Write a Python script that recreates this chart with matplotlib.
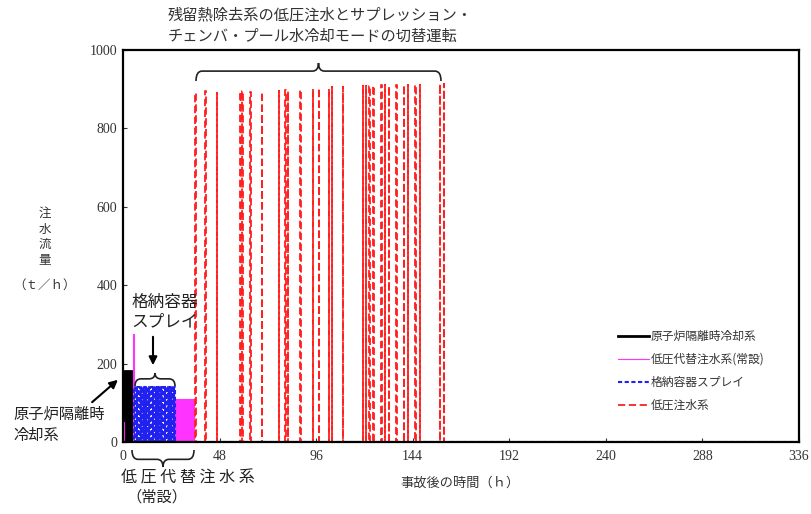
import numpy as np
import matplotlib.pyplot as plt
from matplotlib.path import Path
from matplotlib.patches import PathPatch

plt.rcParams['font.family'] = ['Noto Sans CJK JP', 'DejaVu Sans']

# ---------------------------------------------------------------------
# data
# ---------------------------------------------------------------------
# 原子炉隔離時冷却系 : on-interval (h) and flow (t/h)
rcic_on = (0.6, 4.3)
rcic_flow = 180

# 低圧代替注水系(常設) : pulse start (h), width (h), flow (t/h)
lpci_alt_t = [0.2, 4.9, 26.0, 27.0, 28.0, 29.0, 30.0, 31.0, 32.0, 33.0, 34.0, 35.0]
lpci_alt_w = [0.5, 0.4, 0.3, 0.3, 0.3, 0.3, 0.3, 0.3, 0.3, 0.3, 0.3, 0.3]
lpci_alt_q = [50, 275, 110, 110, 110, 110, 110, 110, 110, 110, 110, 110]

# 格納容器スプレイ : pulse start (h), flow (t/h)
spray_t = [5.5, 6.3, 7.1, 7.9, 8.7, 9.5, 10.3, 11.1, 11.9, 12.7, 13.5, 14.3,
           15.1, 15.9, 16.7, 17.5, 18.3, 19.1, 19.9, 20.7, 21.5, 22.3, 23.1,
           23.9, 24.7, 25.4]
spray_q = 140
spray_w = 0.4

# 低圧注水系 : pulse start (h), peak flow (t/h)
lpci_t = [35.8, 40.8, 46.6, 58.2, 59.3, 63.2, 69.0, 77.3, 80.6, 81.9, 88.1,
          94.2, 97.2, 102.2, 103.8, 109.1, 119.1, 120.7, 122.4, 124.5, 128.4,
          130.0, 132.0, 135.7, 139.5, 141.5, 145.3, 147.4, 157.4, 159.4]
lpci_q = [890, 895, 890, 892, 895, 893, 893, 895, 898, 895, 897, 900, 902,
          900, 905, 905, 908, 908, 908, 908, 910, 910, 908, 910, 910, 910,
          910, 910, 912, 912]
lpci_w = 0.3

T_END = 336


def pulses(starts, widths, heights):
    """Build a step series (x, y) from rectangular pulses."""
    xs, ys = [0.0], [0.0]
    for s, w, h in zip(starts, widths, heights):
        xs += [s, s, s + w, s + w]
        ys += [0, h, h, 0]
    xs.append(T_END)
    ys.append(0)
    return np.array(xs), np.array(ys)


def brace(fig, x0, x1, y, h, up=True, lw=1.2):
    """Curly brace in figure pixels between x0 and x1 at y, tip out by h."""
    W, H = fig.bbox.width, fig.bbox.height
    s = 1 if up else -1
    xm = (x0 + x1) / 2
    r = 6
    yb = y + s * h * 0.55
    verts = [
        (x0, y), (x0, yb), (x0 + r, yb),
        (xm - r, yb), (xm, yb), (xm, y + s * h),
        (xm, yb), (xm + r, yb),
        (x1 - r, yb), (x1, yb), (x1, y),
    ]
    verts = [(vx / W, vy / H) for vx, vy in verts]
    codes = [Path.MOVETO, Path.CURVE3, Path.CURVE3, Path.LINETO,
             Path.CURVE3, Path.CURVE3, Path.CURVE3, Path.CURVE3,
             Path.LINETO, Path.CURVE3, Path.CURVE3]
    fig.add_artist(PathPatch(Path(verts, codes), fill=False, lw=lw,
                             edgecolor="#222222", transform=fig.transFigure,
                             clip_on=False))


fig = plt.figure(figsize=(8.11, 5.14), dpi=100)
ax = fig.add_axes([0.1517, 0.140, 0.8335, 0.763])
W, H = 811, 514

# RCIC block
ax.fill_between([rcic_on[0], rcic_on[1]], 0, rcic_flow, color="black", lw=0)
ax.plot([0, rcic_on[0], rcic_on[0], rcic_on[1], rcic_on[1], T_END],
        [0, 0, rcic_flow, rcic_flow, 0, 0], color="black", lw=2,
        label="原子炉隔離時冷却系")

# LPCI alt (magenta)
x, y = pulses(lpci_alt_t, lpci_alt_w, lpci_alt_q)
ax.plot(x, y, color="#ff33ff", lw=0.8, label="低圧代替注水系(常設)")

# Containment spray (blue dashed)
x, y = pulses(spray_t, [spray_w] * len(spray_t), [spray_q] * len(spray_t))
ax.plot(x, y, color="#2222ee", lw=1.5, ls=(0, (2, 1.2)),
        label="格納容器スプレイ")

# LPCI (red dashed)
x, y = pulses(lpci_t, [lpci_w] * len(lpci_t), lpci_q)
ax.plot(x, y, color="#ff2020", lw=1.3, ls=(0, (4, 2)), label="低圧注水系")

ax.set_xlim(0, 336)
ax.set_ylim(0, 1000)
ax.set_xticks(np.arange(0, 337, 48))
ax.set_yticks(np.arange(0, 1001, 200))
ax.tick_params(direction="in", length=3, labelsize=10, colors="#333333",
               pad=6)
ax.tick_params(axis="y", pad=4)
for lab in ax.get_xticklabels() + ax.get_yticklabels():
    lab.set_family(["Liberation Serif", "DejaVu Serif"])
for sp in ax.spines.values():
    sp.set_linewidth(1.6)

leg = ax.legend(loc="lower right", bbox_to_anchor=(0.965, 0.05),
                frameon=False, fontsize=8.5, handlelength=2.6,
                handletextpad=0.2, labelspacing=0.85)
for t in leg.get_texts():
    t.set_color("#333333")

# y label (stacked vertical)
fig.text(45 / W, 1 - 237 / H, "注\n水\n流\n量", ha="center", va="center",
         fontsize=9, linespacing=1.25, color="#333333")
fig.text(45 / W, 1 - 285 / H, "（ｔ／ｈ）", ha="center", va="center",
         fontsize=9, color="#333333")
fig.text(460 / W, 1 - 483 / H, "事故後の時間（ｈ）", ha="center",
         va="center", fontsize=9.5, color="#333333")

# title of the switching operation
fig.text(168 / W, 1 - 26 / H,
         "残留熱除去系の低圧注水とサプレッション・\nチェンバ・プール水冷却モードの切替運転",
         ha="left", va="center", fontsize=11, linespacing=1.35,
         color="#333333")

brace(fig, 196, 441, H - 81, 18, up=True)

# containment spray annotation
fig.text(165 / W, 1 - 312 / H, "格納容器\nスプレイ", ha="center",
         va="center", fontsize=12, linespacing=1.2, color="#222222")
ax.annotate("", xy=(153 / W, 1 - 368 / H), xytext=(153 / W, 1 - 334 / H),
            xycoords="figure fraction", textcoords="figure fraction",
            arrowprops=dict(arrowstyle="-|>", color="black", lw=1.5,
                            mutation_scale=12))
brace(fig, 135, 175, H - 386, 13, up=True)

# RCIC annotation
fig.text(13 / W, 1 - 425 / H, "原子炉隔離時\n冷却系", ha="left",
         va="center", fontsize=11, linespacing=1.35, color="#222222",
         multialignment="left")
ax.annotate("", xy=(120 / W, 1 - 378 / H), xytext=(90 / W, 1 - 404 / H),
            xycoords="figure fraction", textcoords="figure fraction",
            arrowprops=dict(arrowstyle="-|>", color="black", lw=1.5,
                            mutation_scale=12))

# LPCI alt annotation below axis
brace(fig, 132, 194, H - 450, 17, up=False)
fig.text(188 / W, 1 - 478 / H, "低 圧 代 替 注 水 系", ha="center",
         va="center", fontsize=11.5, color="#222222")
fig.text(157 / W, 1 - 497 / H, "（常設）", ha="center", va="center",
         fontsize=11, color="#222222")

fig.savefig("out.png", dpi=100)
